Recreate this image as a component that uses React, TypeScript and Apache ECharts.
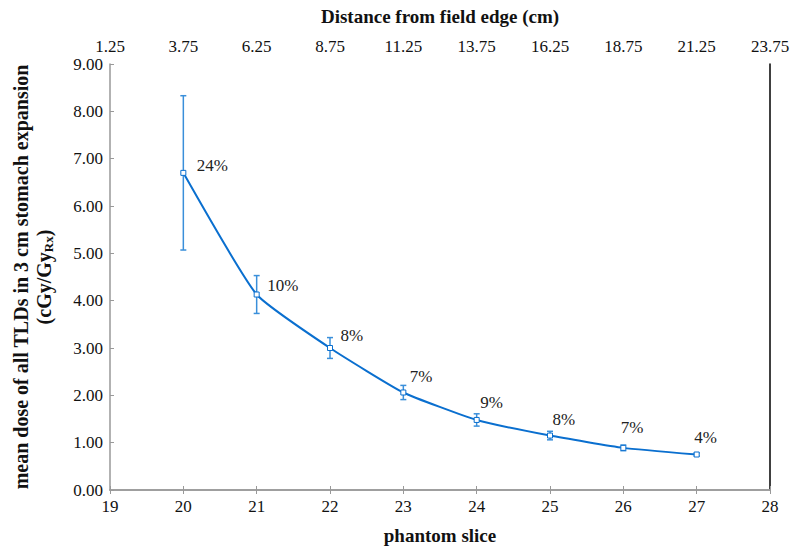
import React, { useEffect, useRef } from "react";
import * as echarts from "echarts";

const slices = [20, 21, 22, 23, 24, 25, 26, 27];
const meanDose = [6.70, 4.13, 3.00, 2.06, 1.48, 1.15, 0.89, 0.75];
const errDose = [1.63, 0.40, 0.22, 0.15, 0.13, 0.09, 0.06, 0.03];
const pctLabels = ["24%", "10%", "8%", "7%", "9%", "8%", "7%", "4%"];
const yTicks = ["0.00", "1.00", "2.00", "3.00", "4.00", "5.00", "6.00", "7.00", "8.00", "9.00"];
const distanceStart = 1.25;
const distanceStep = 2.5;

const labelOffsets: [number, number][] = [
  [5.5, -7], [2.5, -9.5], [2.5, -13], [-1.5, -16], [-4.5, -17], [-5.5, -16], [-10.5, -20], [-10.5, -17],
];

const FONT = "Liberation Serif";
const LINE = "#0a6fcf";
const ERR = "#3a8fda";

const richT = { t: { fontFamily: FONT, fontSize: 17, color: "#111" } };
const richB = { b: { fontFamily: FONT, fontSize: 19, fontWeight: "bold", color: "#111" } };

export default function App() {
  const ref = useRef<HTMLDivElement>(null);
  useEffect(() => {
    if (!ref.current) return;
    const chart = echarts.init(ref.current, null, { renderer: "svg" });
    const lineData = slices.map((s, i) => ({
      value: [s, meanDose[i]],
      label: {
        show: true,
        position: "right",
        distance: 5,
        offset: labelOffsets[i],
        formatter: `{p|${pctLabels[i]}}`,
        rich: { p: { fontFamily: FONT, fontSize: 17, color: "#222" } },
      },
    }));
    const errData = slices.map((s, i) => [s, meanDose[i] + errDose[i], meanDose[i] - errDose[i]]);
    chart.setOption({
      animation: false,
      backgroundColor: "#ffffff",
      textStyle: { fontFamily: FONT },
      grid: { left: 110, right: 30, top: 64, bottom: 67 },
      xAxis: [
        {
          type: "value",
          position: "bottom",
          min: 19,
          max: 28,
          interval: 1,
          name: "{b|phantom slice}",
          nameLocation: "middle",
          nameGap: 36,
          nameTextStyle: { rich: richB },
          axisLine: { show: true, lineStyle: { color: "#999", width: 1.5 } },
          axisTick: { show: true, inside: true, length: 4, lineStyle: { color: "#999" } },
          axisLabel: { margin: 8, formatter: (v: number) => `{t|${v}}`, rich: richT },
          splitLine: { show: false },
        },
        {
          type: "value",
          position: "top",
          min: 19,
          max: 28,
          interval: 1,
          name: "{b|Distance from field edge (cm)}",
          nameLocation: "middle",
          nameGap: 38,
          nameTextStyle: { rich: richB },
          axisLine: { show: true, lineStyle: { color: "#999", width: 1.5 } },
          axisTick: { show: true, inside: true, length: 4, lineStyle: { color: "#999" } },
          axisLabel: {
            margin: 9,
            formatter: (v: number) => `{t|${(distanceStart + (v - 19) * distanceStep).toFixed(2)}}`,
            rich: richT,
          },
          splitLine: { show: false },
        },
      ],
      yAxis: [
        {
          type: "value",
          position: "left",
          min: 0,
          max: 9,
          interval: 1,
          name:
            "{a|mean dose of all TLDs in 3 cm stomach expansion}\n{a|(cGy/Gy}{s|Rx}{a|)}",
          nameLocation: "middle",
          nameRotate: 90,
          nameGap: 55,
          nameTextStyle: {
            rich: {
              a: { fontFamily: FONT, fontSize: 20, fontWeight: "bold", color: "#111", lineHeight: 23 },
              s: { fontFamily: FONT, fontSize: 13, fontWeight: "bold", color: "#111", padding: [10, 0, 0, 0], lineHeight: 23 },
            },
          },
          axisLine: { show: true, lineStyle: { color: "#999", width: 1.5 } },
          axisTick: { show: true, inside: true, length: 4, lineStyle: { color: "#999" } },
          axisLabel: {
            margin: 7,
            formatter: (v: number) => `{t|${yTicks[Math.round(v)] ?? v.toFixed(2)}}`,
            rich: richT,
          },
          splitLine: { show: false },
        },
        {
          type: "value",
          position: "right",
          min: 0,
          max: 9,
          interval: 1,
          axisLine: { show: true, lineStyle: { color: "#000", width: 1.5 } },
          axisTick: { show: false },
          axisLabel: { show: false },
          splitLine: { show: false },
        },
      ],
      series: [
        {
          type: "custom",
          xAxisIndex: 0,
          yAxisIndex: 0,
          z: 1,
          data: errData,
          renderItem: (params: any, api: any) => {
            const x = api.value(0);
            const hi = api.coord([x, api.value(1)]);
            const lo = api.coord([x, api.value(2)]);
            const w = 3;
            const style = { stroke: ERR, lineWidth: 1.5 };
            return {
              type: "group",
              children: [
                { type: "line", shape: { x1: hi[0], y1: hi[1], x2: lo[0], y2: lo[1] }, style },
                { type: "line", shape: { x1: hi[0] - w, y1: hi[1], x2: hi[0] + w, y2: hi[1] }, style },
                { type: "line", shape: { x1: lo[0] - w, y1: lo[1], x2: lo[0] + w, y2: lo[1] }, style },
              ],
            };
          },
        },
        {
          type: "line",
          xAxisIndex: 0,
          yAxisIndex: 0,
          z: 3,
          smooth: 0.15,
          data: lineData,
          symbol: "rect",
          symbolSize: 5,
          lineStyle: { color: LINE, width: 2 },
          itemStyle: { color: "#ffffff", borderColor: LINE, borderWidth: 1 },
        },
      ],
    });
    return () => chart.dispose();
  }, []);
  return <div ref={ref} style={{ width: 800, height: 557, margin: -8 }} />;
}
